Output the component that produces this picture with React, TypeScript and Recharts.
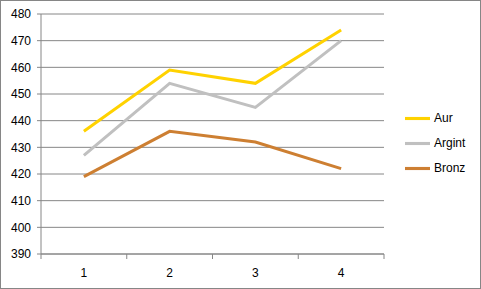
import { LineChart, Line, XAxis, YAxis, CartesianGrid, Legend } from "recharts";

const categories = [1, 2, 3, 4];
const seriesNames = ["Aur", "Argint", "Bronz"];
const aur = [436, 459, 454, 474];
const argint = [427, 454, 445, 470];
const bronz = [419, 436, 432, 422];
const yTicks = [390, 400, 410, 420, 430, 440, 450, 460, 470, 480];
const xTicks = [0.5, 1, 1.5, 2, 2.5, 3, 3.5, 4, 4.5];

const GRID = "#868686";
const FONT = "'Liberation Sans', Arial, sans-serif";
const X_MARGIN = 14;

const data = categories.map((c, i) => ({
  x: c,
  Aur: aur[i],
  Argint: argint[i],
  Bronz: bronz[i],
}));

const tickStyle = { fill: "#000", fontSize: 12, fontFamily: FONT };

// category labels sit mid-band, tick marks sit on band edges (Excel style)
function XTick(props: any) {
  const { x, y, payload } = props;
  const v = payload.value;
  if (!Number.isInteger(v)) {
    return <line x1={x} x2={x} y1={y - X_MARGIN} y2={y - X_MARGIN + 5} stroke={GRID} />;
  }
  return (
    <text x={x} y={y} dy="0.71em" textAnchor="middle" {...tickStyle}>
      {v}
    </text>
  );
}

export default function App() {
  return (
    <div style={{ position: "fixed", top: 0, left: 0, width: 481, height: 289, background: "#fff" }}>
      <LineChart width={481} height={289} data={data} margin={{ top: 14, right: 97, bottom: 0, left: 0 }}>
        <CartesianGrid vertical={false} stroke={GRID} />
        <XAxis
          type="number"
          dataKey="x"
          domain={[0.5, 4.5]}
          ticks={xTicks}
          interval={0}
          allowDataOverflow
          tickLine={false}
          tickSize={0}
          tickMargin={X_MARGIN}
          axisLine={{ stroke: GRID }}
          tick={<XTick />}
          height={35}
        />
        <YAxis
          type="number"
          domain={[390, 480]}
          ticks={yTicks}
          width={41}
          tickSize={4}
          tickMargin={6}
          tickLine={{ stroke: GRID }}
          axisLine={{ stroke: GRID }}
          tick={tickStyle}
        />
        <Line dataKey="Aur" stroke="#FFD200" strokeWidth={3} dot={false} isAnimationActive={false} />
        <Line dataKey="Argint" stroke="#C0C0C0" strokeWidth={3} dot={false} isAnimationActive={false} />
        <Line dataKey="Bronz" stroke="#CD7F32" strokeWidth={3} dot={false} isAnimationActive={false} />
        <Legend
          layout="vertical"
          align="center"
          verticalAlign="middle"
          iconType="plainline"
          iconSize={25}
          itemSorter={(item: any) => seriesNames.indexOf(item.value)}
          wrapperStyle={{ left: 405, top: 106, width: 75, fontFamily: FONT, fontSize: 12 }}
          formatter={(v) => <span style={{ color: "#000" }}>{v}</span>}
        />
      </LineChart>
      <div
        style={{
          position: "absolute",
          top: 0,
          left: 0,
          width: 481,
          height: 289,
          boxSizing: "border-box",
          border: "1px solid #868686",
          pointerEvents: "none",
        }}
      />
    </div>
  );
}
